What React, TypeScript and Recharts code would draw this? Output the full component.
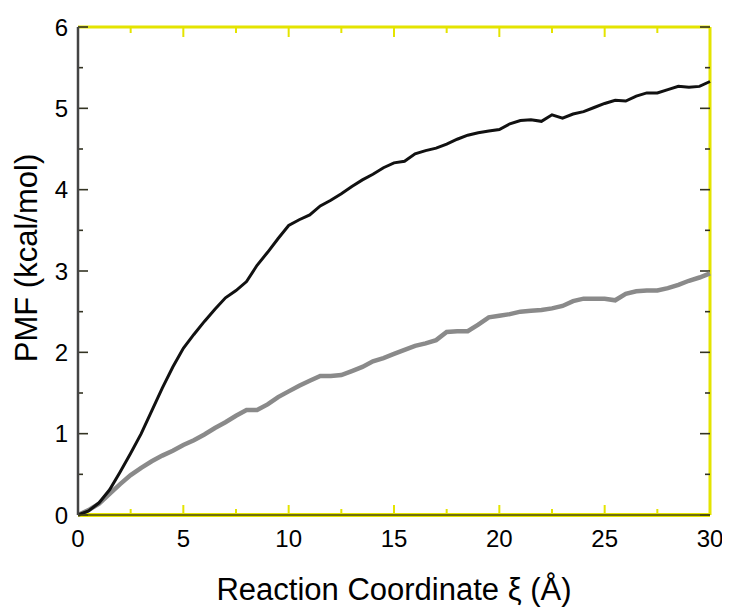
import React from "react";
import { LineChart, Line, XAxis, YAxis, ReferenceLine } from "recharts";

const xValues = [0, 0.5, 1, 1.5, 2, 2.5, 3, 3.5, 4, 4.5, 5, 5.5, 6, 6.5, 7, 7.5, 8, 8.5, 9, 9.5, 10, 10.5, 11, 11.5, 12, 12.5, 13, 13.5, 14, 14.5, 15, 15.5, 16, 16.5, 17, 17.5, 18, 18.5, 19, 19.5, 20, 20.5, 21, 21.5, 22, 22.5, 23, 23.5, 24, 24.5, 25, 25.5, 26, 26.5, 27, 27.5, 28, 28.5, 29, 29.5, 30];

const blackPMF = [0, 0.05, 0.15, 0.31, 0.53, 0.76, 1.0, 1.28, 1.56, 1.82, 2.05, 2.22, 2.38, 2.53, 2.67, 2.76, 2.87, 3.07, 3.23, 3.4, 3.56, 3.63, 3.69, 3.8, 3.87, 3.95, 4.04, 4.12, 4.19, 4.27, 4.33, 4.35, 4.44, 4.48, 4.51, 4.56, 4.62, 4.67, 4.7, 4.72, 4.74, 4.81, 4.85, 4.86, 4.84, 4.92, 4.88, 4.93, 4.96, 5.01, 5.06, 5.1, 5.09, 5.15, 5.19, 5.19, 5.23, 5.27, 5.26, 5.27, 5.33];

const grayPMF = [0, 0.06, 0.14, 0.26, 0.38, 0.49, 0.58, 0.66, 0.73, 0.79, 0.86, 0.92, 0.99, 1.07, 1.14, 1.22, 1.29, 1.29, 1.36, 1.45, 1.52, 1.59, 1.65, 1.71, 1.71, 1.72, 1.77, 1.82, 1.89, 1.93, 1.98, 2.03, 2.08, 2.11, 2.15, 2.25, 2.26, 2.26, 2.34, 2.43, 2.45, 2.47, 2.5, 2.51, 2.52, 2.54, 2.57, 2.63, 2.66, 2.66, 2.66, 2.64, 2.72, 2.75, 2.76, 2.76, 2.79, 2.83, 2.88, 2.92, 2.97];

const xTicks = [0, 2.5, 5, 7.5, 10, 12.5, 15, 17.5, 20, 22.5, 25, 27.5, 30];
const yTicks = [0, 0.5, 1, 1.5, 2, 2.5, 3, 3.5, 4, 4.5, 5, 5.5, 6];
const xLabelTicks = [0, 5, 10, 15, 20, 25, 30];
const yLabelTicks = [0, 1, 2, 3, 4, 5, 6];
const xDomain = [0, 30];
const yDomain = [0, 6];

const xLabel = "Reaction Coordinate \u03BE (\u00C5)";
const yLabel = "PMF (kcal/mol)";

const data = xValues.map((x, i) => ({ x, black: blackPMF[i], gray: grayPMF[i] }));

const FONT = "'Liberation Sans', Arial, Helvetica, sans-serif";
const DARK = "#333322";
const OLIVE = "#4a4a10";
const YELLOW = "#e4e400";

const isMajorX = (v: number) => v % 5 === 0;
const isMajorY = (v: number) => v % 1 === 0;

const makeXTickShape = (v: number) => (props: any) => {
  const { x1, y1, y2 } = props;
  const len = isMajorX(v) ? 10 : 6;
  const yb = Math.max(y1, y2);
  const yt = Math.min(y1, y2);
  return (
    <g>
      <path d={`M${x1},${yb} L${x1},${yb - len}`} stroke={YELLOW} strokeWidth={2} fill="none" />
      <path d={`M${x1},${yt} L${x1},${yt + len}`} stroke={YELLOW} strokeWidth={2} fill="none" />
    </g>
  );
};

const makeYTickShape = (v: number) => (props: any) => {
  const { x1, x2, y1 } = props;
  const len = isMajorY(v) ? 10 : 5;
  const xl = Math.min(x1, x2);
  const xr = Math.max(x1, x2);
  return (
    <g>
      <path d={`M${xl},${y1} L${xl + len},${y1}`} stroke={DARK} strokeWidth={1.6} fill="none" />
      <path d={`M${xr},${y1} L${xr - len},${y1}`} stroke={DARK} strokeWidth={1.6} fill="none" />
    </g>
  );
};

const BottomTick = (props: any) => {
  const { x, y, payload } = props;
  return (
    <text x={x} y={y + 32} textAnchor="middle" fontSize={24} fontFamily={FONT} fill="#000">
      {payload.value}
    </text>
  );
};

const LeftTick = (props: any) => {
  const { x, y, payload } = props;
  return (
    <text x={x - 10} y={y} textAnchor="end" dominantBaseline="central" fontSize={24} fontFamily={FONT} fill="#000">
      {payload.value}
    </text>
  );
};

const XTitle = (props: any) => {
  const vb = props.viewBox;
  return (
    <text x={vb.x + vb.width / 2} y={vb.y + 85} textAnchor="middle" fontSize={31} fontFamily={FONT} fill="#000">
      {xLabel}
    </text>
  );
};

const YTitle = (props: any) => {
  const vb = props.viewBox;
  const cx = 29;
  const cy = vb.y + vb.height / 2 - 13;
  return (
    <text x={cx} y={cy} transform={`rotate(-90 ${cx} ${cy})`} textAnchor="middle" fontSize={31} fontFamily={FONT} fill="#000">
      {yLabel}
    </text>
  );
};

export default function App() {
  return (
    <LineChart width={722} height={600} data={data} margin={{ top: 19, right: 20, bottom: 33, left: 0 }}>
      <ReferenceLine xAxisId="b" yAxisId="l" y={yDomain[1]} stroke={YELLOW} strokeWidth={3} ifOverflow="visible" />
      <ReferenceLine xAxisId="b" yAxisId="l" x={xDomain[1]} stroke={YELLOW} strokeWidth={3} ifOverflow="visible" />
      <ReferenceLine xAxisId="b" yAxisId="l" y={yDomain[0]} stroke={YELLOW} strokeWidth={4} ifOverflow="visible" />
      {xTicks.map((v) => (
        <ReferenceLine key={`xt${v}`} xAxisId="b" yAxisId="l" x={v} ifOverflow="visible" shape={makeXTickShape(v)} />
      ))}
      {yTicks.map((v) => (
        <ReferenceLine key={`yt${v}`} xAxisId="b" yAxisId="l" y={v} ifOverflow="visible" shape={makeYTickShape(v)} />
      ))}
      <XAxis
        xAxisId="b"
        dataKey="x"
        type="number"
        domain={xDomain}
        ticks={xLabelTicks}
        interval={0}
        height={60}
        tickSize={0}
        tickMargin={0}
        tickLine={false}
        axisLine={{ stroke: OLIVE, strokeWidth: 1.5 }}
        tick={BottomTick}
        label={{ content: XTitle }}
      />
      <YAxis
        yAxisId="l"
        type="number"
        domain={yDomain}
        ticks={yLabelTicks}
        interval={0}
        width={70}
        tickSize={0}
        tickMargin={0}
        tickLine={false}
        axisLine={{ stroke: "#444444", strokeWidth: 2.5 }}
        tick={LeftTick}
        label={{ content: YTitle }}
      />
      <Line
        xAxisId="b"
        yAxisId="l"
        type="linear"
        dataKey="gray"
        stroke="#8a8a8a"
        strokeWidth={4.5}
        dot={false}
        isAnimationActive={false}
      />
      <Line
        xAxisId="b"
        yAxisId="l"
        type="linear"
        dataKey="black"
        stroke="#111111"
        strokeWidth={3}
        dot={false}
        isAnimationActive={false}
      />
    </LineChart>
  );
}
